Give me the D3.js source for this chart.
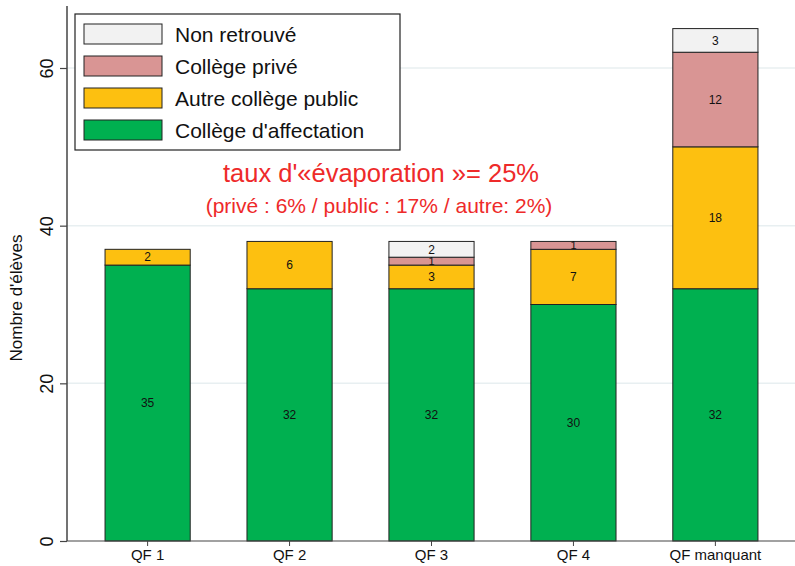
<!DOCTYPE html>
<html><head><meta charset="utf-8">
<script src="https://cdn.jsdelivr.net/npm/d3@7"></script>
<style>body{margin:0;background:#fff}svg{display:block;font-family:"Liberation Sans",Arial,sans-serif}</style>
</head><body>
<svg id="c" width="795" height="566"></svg>
<script>
const categories = ["QF 1","QF 2","QF 3","QF 4","QF manquant"];
const affectation = [35,32,32,30,32];
const autrePublic = [2,6,3,7,18];
const prive = [0,0,1,1,12];
const nonRetrouve = [0,0,2,0,3];
const yTicks = [0,20,40,60];
const seriesNames = ["Collège d'affectation","Autre collège public","Collège privé","Non retrouvé"];
const seriesColors = ["#00b050","#fdc010","#d99594","#f2f2f2"];
const annotation1 = "taux d'«évaporation »= 25%";
const annotation2 = "(privé : 6% / public : 17% / autre: 2%)";

const svg = d3.select("#c");
const x = d3.scaleBand().domain(categories).range([67,796]).paddingInner(0.4).paddingOuter(0.268);
const y = d3.scaleLinear().domain([0,60]).range([541,68]);

// grid
svg.append("g").selectAll("line").data(yTicks.filter(d=>d>0)).join("line")
  .attr("x1",67).attr("x2",795).attr("y1",d=>y(d)).attr("y2",d=>y(d))
  .attr("stroke","#e8eff1").attr("stroke-width",1.5);

const table = categories.map((c,i)=>({cat:c, v:[affectation[i],autrePublic[i],prive[i],nonRetrouve[i]]}));
const keys = [0,1,2,3];
const stack = d3.stack().keys(keys).value((d,k)=>d.v[k])(table);

const g = svg.append("g");
stack.forEach((layer,k)=>{
  layer.forEach(seg=>{
    const v = seg[1]-seg[0];
    if(v<=0) return;
    g.append("rect").attr("x",x(seg.data.cat)).attr("width",x.bandwidth())
      .attr("y",y(seg[1])).attr("height",y(seg[0])-y(seg[1]))
      .attr("fill",seriesColors[k]).attr("stroke","#222").attr("stroke-width",1);
  });
});
stack.forEach((layer,k)=>{
  layer.forEach(seg=>{
    const v = seg[1]-seg[0];
    if(v<=0) return;
    const small = v===1;
    g.append("text").attr("x",x(seg.data.cat)+x.bandwidth()/2)
      .attr("y",(y(seg[0])+y(seg[1]))/2).attr("dy","0.35em")
      .attr("text-anchor","middle").attr("font-size",small?11:12).attr("fill","#111").text(v);
  });
});

// y axis
const ya = svg.append("g").attr("transform","translate(67,0)")
  .call(d3.axisLeft(y).tickValues(yTicks).tickSize(7).tickFormat(d3.format("d")));
ya.select(".domain").attr("d","M0,6V541").attr("stroke","#444").attr("stroke-width",1.5);
ya.selectAll(".tick line").attr("stroke","#444").attr("stroke-width",1.2);
ya.selectAll(".tick text").attr("font-size",18).attr("fill","#111")
  .attr("transform","rotate(-90)").attr("x",0).attr("y",-14).attr("dy","0").attr("text-anchor","middle");

// x axis
const xa = svg.append("g").attr("transform","translate(0,541)")
  .call(d3.axisBottom(x).tickSize(5));
xa.select(".domain").attr("d","M67,0H795").attr("stroke","#444").attr("stroke-width",1.2);
xa.selectAll(".tick line").attr("stroke","#444");
xa.selectAll(".tick text").attr("font-size",15).attr("fill","#111").attr("y",8);

// y label
svg.append("text").attr("transform","translate(22,298) rotate(-90)")
  .attr("text-anchor","middle").attr("font-size",17).attr("fill","#111").text("Nombre d'élèves");

// legend
const lg = svg.append("g");
lg.append("rect").attr("x",75).attr("y",14).attr("width",325).attr("height",136)
  .attr("fill","#fff").attr("stroke","#222").attr("stroke-width",1.2);
const legendOrder = [3,2,1,0];
legendOrder.forEach((k,i)=>{
  const cy = 34 + i*32;
  lg.append("rect").attr("x",84).attr("y",cy-10).attr("width",78).attr("height",20)
    .attr("fill",seriesColors[k]).attr("stroke","#222").attr("stroke-width",1);
  lg.append("text").attr("x",175).attr("y",cy).attr("dy","0.36em")
    .attr("font-size",21).attr("fill","#111").text(seriesNames[k]);
});

// annotation
svg.append("text").attr("x",381).attr("y",182).attr("text-anchor","middle")
  .attr("font-size",25.5).attr("fill","#ee2a2a").text(annotation1);
svg.append("text").attr("x",379).attr("y",213).attr("text-anchor","middle")
  .attr("font-size",21).attr("fill","#ee2a2a").text(annotation2);
</script>
</body></html>
